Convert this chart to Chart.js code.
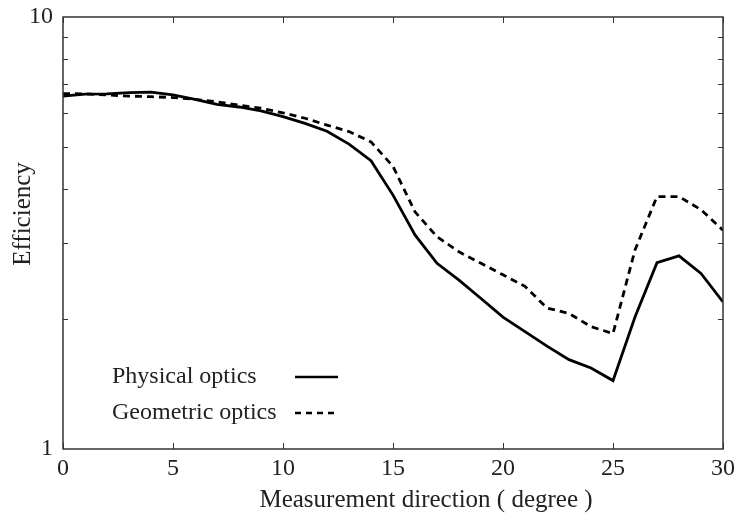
<!DOCTYPE html>
<html>
<head>
<meta charset="utf-8">
<script src="https://cdn.jsdelivr.net/npm/chart.js@4"></script>
<style>
  html, body { margin: 0; padding: 0; background: #fff; }
  #wrap { width: 736px; height: 519px; }
</style>
</head>
<body>
<div id="wrap"><canvas id="c" width="736" height="519"></canvas></div>
<script>
// data
const degrees = [0,1,2,3,4,5,6,7,8,9,10,11,12,13,14,15,16,17,18,19,20,21,22,23,24,25,26,27,28,29,30];
const physical = [6.56,6.63,6.64,6.68,6.70,6.60,6.45,6.28,6.19,6.06,5.88,5.67,5.44,5.08,4.65,3.87,3.13,2.69,2.46,2.23,2.02,1.87,1.73,1.61,1.54,1.44,2.02,2.70,2.80,2.55,2.19];
const geometric = [6.65,6.64,6.60,6.56,6.54,6.51,6.45,6.36,6.25,6.15,6.00,5.83,5.62,5.43,5.14,4.51,3.54,3.10,2.86,2.69,2.53,2.38,2.12,2.06,1.92,1.85,2.89,3.84,3.84,3.58,3.21];
const seriesNames = ['Physical optics', 'Geometric optics'];
const xTicks = [0,5,10,15,20,25,30];
const yLabels = [1,10];

const FONT = 'Liberation Serif';
const INK = '#222';

// frame + inward ticks on all four sides, axis titles and the in-plot legend
const framePlugin = {
  id: 'frame',
  afterDraw(chart) {
    const {ctx, chartArea: a, scales} = chart;
    const x = scales.x, y = scales.y;
    ctx.save();
    ctx.strokeStyle = '#333';
    ctx.lineWidth = 1.5;
    ctx.strokeRect(a.left, a.top, a.right - a.left, a.bottom - a.top);
    ctx.lineWidth = 1;
    xTicks.forEach(v => {
      const px = Math.round(x.getPixelForValue(v)) + 0.5;
      ctx.beginPath();
      ctx.moveTo(px, a.bottom); ctx.lineTo(px, a.bottom - 6);
      ctx.moveTo(px, a.top); ctx.lineTo(px, a.top + 6);
      ctx.stroke();
    });
    for (let v = 2; v <= 9; v++) {
      const py = Math.round(y.getPixelForValue(v)) + 0.5;
      ctx.beginPath();
      ctx.moveTo(a.left, py); ctx.lineTo(a.left + 5, py);
      ctx.moveTo(a.right, py); ctx.lineTo(a.right - 5, py);
      ctx.stroke();
    }
    // axis titles (both sit off-centre in the original)
    ctx.fillStyle = INK;
    ctx.font = '25px "' + FONT + '"';
    ctx.textAlign = 'center';
    ctx.textBaseline = 'middle';
    ctx.fillText('Measurement direction ( degree )', 426, 500);
    ctx.translate(23, 214);
    ctx.rotate(-Math.PI / 2);
    ctx.fillText('Efficiency', 0, 0);
    ctx.setTransform(1, 0, 0, 1, 0, 0);
    // legend
    ctx.font = '24px "' + FONT + '"';
    ctx.textAlign = 'left';
    const rows = [{dash: [], ly: 377}, {dash: [6, 5], ly: 413}];
    rows.forEach((r, i) => {
      ctx.fillText(seriesNames[i], 112, r.ly);
      ctx.beginPath();
      ctx.setLineDash(r.dash);
      ctx.lineWidth = 2.6;
      ctx.strokeStyle = '#000';
      ctx.moveTo(295, r.ly); ctx.lineTo(338, r.ly);
      ctx.stroke();
    });
    ctx.restore();
  }
};

new Chart(document.getElementById('c'), {
  type: 'line',
  data: {
    datasets: [
      { label: seriesNames[0], data: degrees.map((d, i) => ({x: d, y: physical[i]})),
        borderColor: '#000', borderWidth: 2.8, pointRadius: 0, tension: 0, fill: false },
      { label: seriesNames[1], data: degrees.map((d, i) => ({x: d, y: geometric[i]})),
        borderColor: '#000', borderWidth: 2.8, borderDash: [7, 5], pointRadius: 0, tension: 0, fill: false }
    ]
  },
  options: {
    responsive: false,
    animation: false,
    events: [],
    layout: { padding: { top: 17, right: 13, left: 0, bottom: 0 } },
    plugins: { legend: { display: false }, tooltip: { enabled: false } },
    scales: {
      x: {
        type: 'linear', min: 0, max: 30,
        afterBuildTicks: s => { s.ticks = xTicks.map(v => ({value: v})); },
        afterFit: s => { s.height = 70; s.paddingLeft = 0; s.paddingRight = 0; },
        grid: { display: false, drawTicks: false },
        border: { display: false },
        ticks: { color: INK, font: { family: FONT, size: 24 }, padding: 5, maxRotation: 0 },
        title: { display: false }
      },
      y: {
        type: 'logarithmic', min: 1, max: 10,
        afterBuildTicks: s => { s.ticks = yLabels.map(v => ({value: v})); },
        afterFit: s => { s.width = 63; s.paddingTop = 0; s.paddingBottom = 0; },
        grid: { display: false, drawTicks: false },
        border: { display: false },
        ticks: { color: INK, font: { family: FONT, size: 24 }, padding: 10,
                 callback: v => String(v) },
        title: { display: false }
      }
    }
  },
  plugins: [framePlugin]
});
</script>
</body>
</html>
